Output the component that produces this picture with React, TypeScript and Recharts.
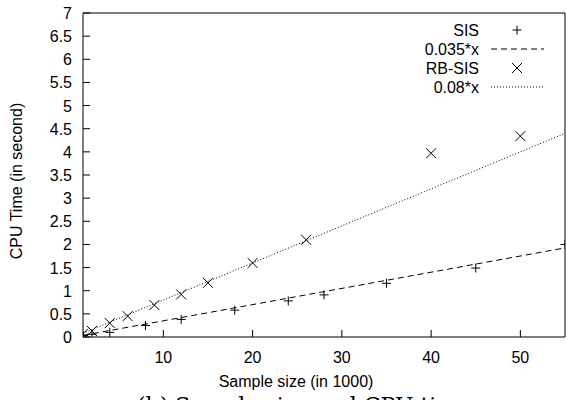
import { ComposedChart, XAxis, YAxis, Line, Scatter } from 'recharts';

// measured values
const sisX = [1, 2, 4, 8, 12, 18, 24, 28, 35, 45, 55];
const sisY = [0.03, 0.06, 0.1, 0.25, 0.38, 0.58, 0.78, 0.91, 1.16, 1.49, 2.0];
const rbX = [1, 2, 4, 6, 9, 12, 15, 20, 26, 40, 50];
const rbY = [0.07, 0.13, 0.3, 0.45, 0.69, 0.92, 1.17, 1.6, 2.1, 3.97, 4.34];

// fitted lines, end points
const fitX = [1, 55];
const sisFitY = [0.035, 1.925];
const rbFitY = [0.08, 4.4];

const xTicks = [10, 20, 30, 40, 50];
const yTicks = [0, 0.5, 1, 1.5, 2, 2.5, 3, 3.5, 4, 4.5, 5, 5.5, 6, 6.5, 7];

const sisData = sisX.map((x, i) => ({ x, y: sisY[i] }));
const rbData = rbX.map((x, i) => ({ x, y: rbY[i] }));
const sisFit = fitX.map((x, i) => ({ x, y: sisFitY[i] }));
const rbFit = fitX.map((x, i) => ({ x, y: rbFitY[i] }));

const font = '"Liberation Sans", Arial, Helvetica, sans-serif';
const TL = 7;

const BottomTick = ({ x, y, payload }: any) => (
  <g>
    <line x1={x} x2={x} y1={y} y2={y - TL} stroke="#000" />
    <text x={x} y={y + 26} textAnchor="middle" fontSize={16} fontFamily={font} fill="#000">
      {payload.value}
    </text>
  </g>
);

const TopTick = ({ x, y }: any) => <line x1={x} x2={x} y1={y} y2={y + TL} stroke="#000" />;

const LeftTick = ({ x, y, payload }: any) => (
  <g>
    <line x1={x} x2={x + TL} y1={y} y2={y} stroke="#000" />
    <text x={x - 11} y={y + 6} textAnchor="end" fontSize={16} fontFamily={font} fill="#000">
      {payload.value}
    </text>
  </g>
);

const RightTick = ({ x, y }: any) => <line x1={x} x2={x - TL} y1={y} y2={y} stroke="#000" />;

const Plus = ({ cx, cy }: any) => (
  <g stroke="#000" strokeWidth={1}>
    <line x1={cx - 4.5} x2={cx + 4.5} y1={cy} y2={cy} />
    <line x1={cx} x2={cx} y1={cy - 4.5} y2={cy + 4.5} />
  </g>
);

const Cross = ({ cx, cy }: any) => (
  <g stroke="#000" strokeWidth={1}>
    <line x1={cx - 5} x2={cx + 5} y1={cy - 5} y2={cy + 5} />
    <line x1={cx - 5} x2={cx + 5} y1={cy + 5} y2={cy - 5} />
  </g>
);

const legendRows = [
  { label: 'SIS', y: 30 },
  { label: '0.035*x', y: 49 },
  { label: 'RB-SIS', y: 68 },
  { label: '0.08*x', y: 87 },
];

export default function App() {
  return (
    <div style={{ position: 'absolute', left: 0, top: 0, width: 566, height: 400, background: '#fff' }}>
      <ComposedChart width={566} height={400} margin={{ top: 0, right: 0, bottom: 0, left: 0 }}>
        <XAxis
          dataKey="x"
          type="number"
          domain={[1, 55]}
          ticks={xTicks}
          allowDataOverflow
          height={63}
          tickSize={0}
          tickMargin={0}
          tickLine={false}
          axisLine={{ stroke: '#000' }}
          tick={<BottomTick />}
        />
        <XAxis
          xAxisId="top"
          orientation="top"
          dataKey="x"
          type="number"
          domain={[1, 55]}
          ticks={xTicks}
          height={13}
          tickSize={0}
          tickMargin={0}
          tickLine={false}
          axisLine={{ stroke: '#000' }}
          tick={<TopTick />}
        />
        <YAxis
          dataKey="y"
          type="number"
          domain={[0, 7]}
          ticks={yTicks}
          allowDataOverflow
          width={83}
          tickSize={0}
          tickMargin={0}
          tickLine={false}
          axisLine={{ stroke: '#000' }}
          tick={<LeftTick />}
        />
        <YAxis
          yAxisId="right"
          orientation="right"
          dataKey="y"
          type="number"
          domain={[0, 7]}
          ticks={yTicks}
          width={1}
          tickSize={0}
          tickMargin={0}
          tickLine={false}
          axisLine={{ stroke: '#000' }}
          tick={<RightTick />}
        />
        <Line
          data={sisFit}
          dataKey="y"
          type="linear"
          stroke="#000"
          strokeWidth={1}
          strokeDasharray="6 4"
          dot={false}
          activeDot={false}
          isAnimationActive={false}
        />
        <Line
          data={rbFit}
          dataKey="y"
          type="linear"
          stroke="#000"
          strokeWidth={1}
          strokeDasharray="1 2"
          dot={false}
          activeDot={false}
          isAnimationActive={false}
        />
        <Scatter data={sisData} dataKey="y" shape={<Plus />} isAnimationActive={false} />
        <Scatter data={rbData} dataKey="y" shape={<Cross />} isAnimationActive={false} />
        <text x={296} y={387} textAnchor="middle" fontSize={16} fontFamily={font} fill="#000">
          Sample size (in 1000)
        </text>
        <text
          x={22}
          y={181}
          transform="rotate(-90 22 181)"
          textAnchor="middle"
          fontSize={16}
          fontFamily={font}
          fill="#000"
        >
          CPU Time (in second)
        </text>
      </ComposedChart>
      <svg width={566} height={400} style={{ position: 'absolute', left: 0, top: 0, pointerEvents: 'none' }}>
        {legendRows.map((r) => (
          <text key={r.label} x={479} y={r.y + 6} textAnchor="end" fontSize={16} fontFamily={font} fill="#000">
            {r.label}
          </text>
        ))}
        <Plus cx={517} cy={30} />
        <line x1={491} x2={544} y1={49} y2={49} stroke="#000" strokeDasharray="6 4" />
        <Cross cx={517} cy={68} />
        <line x1={491} x2={544} y1={87} y2={87} stroke="#000" strokeDasharray="1 2" />
        <text x={137} y={413} fontSize={22} fontFamily='"DejaVu Serif", serif' fill="#000">
          (b) Sample size and CPU time
        </text>
      </svg>
    </div>
  );
}
